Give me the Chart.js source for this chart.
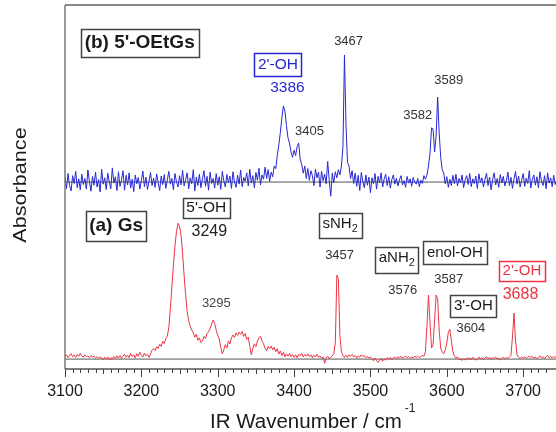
<!DOCTYPE html>
<html>
<head>
<meta charset="utf-8">
<script src="https://cdn.jsdelivr.net/npm/chart.js@4.4.1/dist/chart.umd.min.js"></script>
<style>
html,body{margin:0;padding:0;background:#fff;}
#wrap{position:relative;width:556px;height:432px;}
</style>
</head>
<body>
<div id="wrap"><canvas id="c"></canvas></div>
<script>
// IR wavenumber grid (cm^-1)
const wavenumbers = [
3100,3102,3104,3106,3108,3110,3112,3114,3116,3118,
3120,3122,3124,3126,3128,3130,3132,3134,3136,3138,
3140,3142,3144,3146,3148,3150,3152,3154,3156,3158,
3160,3162,3164,3166,3168,3170,3172,3174,3176,3178,
3180,3182,3184,3186,3188,3190,3192,3194,3196,3198,
3200,3202,3204,3206,3208,3210,3212,3214,3216,3218,
3220,3222,3224,3226,3228,3230,3232,3234,3236,3238,
3240,3242,3244,3246,3248,3250,3252,3254,3256,3258,
3260,3262,3264,3266,3268,3270,3272,3274,3276,3278,
3280,3282,3284,3286,3288,3290,3292,3294,3296,3298,
3300,3302,3304,3306,3308,3310,3312,3314,3316,3318,
3320,3322,3324,3326,3328,3330,3332,3334,3336,3338,
3340,3342,3344,3346,3348,3350,3352,3354,3356,3358,
3360,3362,3364,3366,3368,3370,3372,3374,3376,3378,
3380,3382,3384,3386,3388,3390,3392,3394,3396,3398,
3400,3402,3404,3406,3408,3410,3412,3414,3416,3418,
3420,3422,3424,3426,3428,3430,3432,3434,3436,3438,
3440,3442,3444,3446,3448,3450,3452,3454,3456,3458,
3460,3462,3464,3466,3468,3470,3472,3474,3476,3478,
3480,3482,3484,3486,3488,3490,3492,3494,3496,3498,
3500,3502,3504,3506,3508,3510,3512,3514,3516,3518,
3520,3522,3524,3526,3528,3530,3532,3534,3536,3538,
3540,3542,3544,3546,3548,3550,3552,3554,3556,3558,
3560,3562,3564,3566,3568,3570,3572,3574,3576,3578,
3580,3582,3584,3586,3588,3590,3592,3594,3596,3598,
3600,3602,3604,3606,3608,3610,3612,3614,3616,3618,
3620,3622,3624,3626,3628,3630,3632,3634,3636,3638,
3640,3642,3644,3646,3648,3650,3652,3654,3656,3658,
3660,3662,3664,3666,3668,3670,3672,3674,3676,3678,
3680,3682,3684,3686,3688,3690,3692,3694,3696,3698,
3700,3702,3704,3706,3708,3710,3712,3714,3716,3718,
3720,3722,3724,3726,3728,3730,3732,3734,3736,3738,
3740,3742,3744
];

// (b) 5'-OEtGs spectrum (offset trace, baseline at 50)
const absorbanceOEtGs = [
51.5,48.2,52.4,49.0,47.5,51.8,49.6,53.0,48.4,50.9,
47.8,52.2,49.3,51.0,48.0,53.4,50.2,47.4,51.6,49.1,
52.8,48.6,50.7,47.2,53.6,49.4,51.2,47.9,52.5,50.0,
48.1,54.0,49.7,51.5,47.6,52.9,48.8,50.6,53.2,47.7,
51.9,49.2,52.6,48.3,50.8,47.3,52.0,49.5,51.3,48.0,
50.5,53.1,48.7,51.4,47.9,50.2,52.7,49.0,51.1,48.5,
52.3,49.8,47.6,51.7,49.3,52.1,48.2,50.6,53.0,49.4,
51.0,47.8,52.4,50.1,48.6,51.8,49.2,53.3,48.9,50.7,
52.6,48.1,51.2,49.5,53.5,47.5,51.4,49.0,52.2,48.4,
50.9,53.2,48.8,51.6,47.7,52.8,49.6,51.0,48.3,52.4,
49.1,51.5,47.9,53.0,50.3,48.6,52.1,49.8,51.7,48.2,
52.9,50.0,48.5,51.9,49.4,53.4,48.7,51.3,50.2,52.6,
48.9,53.6,49.7,51.8,48.4,52.7,50.5,53.9,49.2,52.0,
50.8,54.2,51.0,53.5,50.2,52.8,51.5,54.5,53.8,57.5,
60.5,64.0,68.0,71.5,70.0,66.0,62.5,61.0,58.5,57.0,
59.0,57.5,60.0,61.0,56.5,55.0,52.5,54.5,51.0,53.8,
50.5,53.2,51.8,49.0,53.6,51.2,52.8,48.6,53.0,50.4,
52.2,49.5,55.8,50.6,46.0,52.5,49.8,52.9,51.2,53.5,
52.0,54.5,60.0,85.9,66.0,55.5,54.5,51.0,53.2,49.6,
52.5,48.8,51.9,47.6,52.7,50.2,48.4,52.0,49.1,51.4,
47.0,51.2,49.5,52.4,48.0,51.6,49.8,52.6,48.6,50.9,
52.2,49.0,51.5,48.3,50.7,52.0,49.4,51.1,48.9,50.6,
51.8,49.2,50.4,48.5,51.6,49.7,50.9,48.8,51.3,50.0,
49.4,51.0,48.7,50.5,49.6,51.8,50.8,52.0,54.5,58.0,
65.3,65.0,58.5,63.0,74.0,64.0,57.0,53.5,52.5,49.5,
51.5,48.5,50.8,49.0,51.9,49.5,52.2,48.9,51.0,49.8,
52.0,48.4,50.6,51.8,49.3,52.4,48.7,50.9,49.6,51.7,
48.2,52.3,49.9,51.2,48.6,50.8,52.5,49.0,51.4,47.8,
50.7,52.6,49.2,51.0,48.5,52.1,49.7,51.6,48.9,50.4,
52.8,49.0,51.3,48.2,50.9,53.0,49.4,51.7,48.6,50.5,
52.4,48.8,51.1,49.6,53.2,48.3,50.8,52.0,49.1,51.5,
48.4,52.9,50.2,49.0,51.8,48.1,52.6,49.7,51.2,48.7,
51.9,49.3,50.6
];

// (a) Gs spectrum (baseline at 0)
const absorbanceGs = [
0.6,1.2,0.4,1.0,1.5,0.7,1.1,0.5,1.3,0.8,
1.6,0.9,0.5,1.2,0.7,0.9,0.4,1.0,0.6,0.8,
0.3,0.7,0.2,0.6,0.4,-0.2,0.5,0.1,0.6,-0.3,
0.4,0.0,0.7,0.2,0.9,0.3,1.0,0.2,0.8,1.4,
0.5,1.1,0.4,1.6,0.7,1.2,0.3,1.5,0.8,1.9,
1.0,0.6,1.7,0.9,1.3,0.5,1.4,2.5,3.0,2.4,
3.5,3.0,4.2,3.6,5.0,4.4,5.8,6.5,9.0,14.2,
20.5,26.7,32.0,36.0,38.4,37.5,35.0,29.8,23.6,18.0,
13.4,10.8,9.2,8.2,7.4,6.2,7.0,5.3,6.0,4.7,
5.1,6.4,5.8,7.2,7.7,8.6,9.9,11.0,10.1,8.2,
6.7,5.7,3.3,1.5,2.7,4.1,3.1,5.1,4.3,6.0,
6.8,6.1,7.4,6.7,7.6,7.0,7.8,6.4,7.2,5.6,
6.2,3.6,1.2,3.1,4.3,3.5,5.1,6.0,6.4,5.1,
4.3,3.1,2.3,3.6,2.9,3.7,2.6,3.3,2.1,2.9,
1.4,2.3,1.0,1.9,0.6,1.5,0.8,1.6,0.7,1.3,
0.5,1.2,0.4,1.4,0.9,1.6,0.6,1.3,0.8,1.5,
0.7,1.2,0.4,1.1,0.6,1.3,0.5,0.9,0.2,0.6,
-1.2,0.3,0.8,0.1,0.6,0.9,1.5,4.6,23.7,22.6,
6.7,2.1,1.0,0.4,1.1,0.5,1.2,0.8,1.3,0.6,
1.0,0.3,0.9,0.5,1.2,0.7,1.0,0.4,0.8,0.2,
0.6,0.1,-0.5,0.3,-0.4,-0.9,-0.3,0.2,-0.6,0.1,
-0.3,0.4,0.0,0.5,-0.2,0.3,0.6,0.1,0.7,0.3,
0.8,0.2,0.5,0.9,0.4,0.7,0.2,0.6,0.3,0.8,
0.5,0.9,0.4,0.7,1.0,0.8,2.1,9.3,18.1,10.3,
3.1,4.1,10.8,18.1,17.0,8.2,3.1,1.9,1.5,2.6,
4.6,7.6,8.4,5.1,2.1,0.8,0.3,0.6,-0.2,0.2,
-0.4,0.1,-0.3,0.3,0.0,0.4,-0.2,0.5,0.1,-0.3,
0.2,0.6,0.0,0.4,-0.2,0.3,0.7,0.1,0.5,-0.1,
0.4,0.2,0.6,0.0,0.3,-0.3,0.2,0.5,0.1,0.4,
0.2,0.6,1.0,6.2,13.0,5.1,1.2,0.5,0.2,0.6,
0.3,0.7,0.2,0.5,0.9,0.4,0.8,0.3,0.6,0.1,
0.5,0.9,0.3,0.7,0.2,0.6,1.0,0.4,0.8,0.3,
0.7,0.5,0.9
];

// zero-absorbance reference lines of the two stacked traces
const baselineLevels = [50, 0];
const axisRange = [3100, 3743];
const tickLabelValues = [3100, 3200, 3300, 3400, 3500, 3600, 3700];

const BLUE = '#2727d2';
const RED = '#ec3442';
const FONT = '"Liberation Sans", Arial, Helvetica, sans-serif';

const toPoints = (xs, ys) => xs.map((x, i) => ({x: x, y: ys[i]}));

const datasets = [
  {data: toPoints(wavenumbers, absorbanceOEtGs), borderColor: BLUE, borderWidth: 1, order: 1},
  {data: toPoints(wavenumbers, absorbanceGs), borderColor: RED, borderWidth: 1, order: 1}
];
baselineLevels.forEach(v => datasets.push({
  data: [{x: axisRange[0], y: v}, {x: axisRange[1], y: v}],
  borderColor: '#555', borderWidth: 1, order: 2
}));

const labels = [
  {seg:[{t:"(b) 5'-OEtGs"}], x:3197.8, y:89.3, size:19, bold:true, color:'#1a1a1a', box:{w:118,h:28,c:'#444'}},
  {seg:[{t:"(a) Gs"}], x:3166.9, y:37.6, size:19, bold:true, color:'#1a1a1a', box:{w:60,h:30,c:'#444'}},
  {seg:[{t:"2'-OH"}], x:3378.9, y:83.2, size:15.5, color:BLUE, box:{w:47,h:23,c:BLUE}},
  {seg:[{t:"3386"}], x:3391.3, y:76.6, size:15.5, color:BLUE},
  {seg:[{t:"3405"}], x:3420.2, y:64.4, size:13, color:'#333'},
  {seg:[{t:"3467"}], x:3471.4, y:89.6, size:13, color:'#333'},
  {seg:[{t:"3582"}], x:3562.0, y:68.7, size:13, color:'#333'},
  {seg:[{t:"3589"}], x:3602.6, y:78.6, size:13, color:'#333'},
  {seg:[{t:"5'-OH"}], x:3285.0, y:42.8, size:15.5, color:'#1a1a1a', box:{w:47,h:20,c:'#444'}},
  {seg:[{t:"3249"}], x:3289.0, y:35.9, size:16, color:'#222'},
  {seg:[{t:"3295"}], x:3298.2, y:15.8, size:13, color:'#444'},
  {seg:[{t:"sNH"},{t:"2",sub:true}], x:3460.2, y:37.7, size:15, color:'#1a1a1a', box:{w:43,h:25,c:'#444'}},
  {seg:[{t:"3457"}], x:3459.6, y:29.4, size:13, color:'#333'},
  {seg:[{t:"aNH"},{t:"2",sub:true}], x:3534.4, y:28.0, size:15, color:'#1a1a1a', box:{w:43,h:26,c:'#444'}},
  {seg:[{t:"enol-OH"}], x:3610.5, y:30.1, size:15, color:'#1a1a1a', box:{w:64,h:23,c:'#444'}},
  {seg:[{t:"3576"}], x:3542.3, y:19.5, size:13, color:'#333'},
  {seg:[{t:"3587"}], x:3602.6, y:22.6, size:13, color:'#333'},
  {seg:[{t:"3'-OH"}], x:3634.8, y:15.0, size:15, color:'#1a1a1a', box:{w:46,h:22,c:'#444'}},
  {seg:[{t:"3604"}], x:3631.5, y:8.8, size:13, color:'#333'},
  {seg:[{t:"2'-OH"}], x:3698.4, y:24.9, size:15, color:RED, box:{w:46,h:20,c:RED}},
  {seg:[{t:"3688"}], x:3696.5, y:18.3, size:16, color:RED}
];

const decorPlugin = {
  id: 'decor',
  afterDatasetsDraw(chart) {
    const ctx = chart.ctx, a = chart.chartArea;
    const xs = chart.scales.x, ys = chart.scales.y;
    ctx.save();
    // frame
    ctx.strokeStyle = '#888'; ctx.lineWidth = 2;
    ctx.beginPath(); ctx.moveTo(a.left, a.top); ctx.lineTo(a.right, a.top); ctx.stroke();
    ctx.strokeStyle = '#777'; ctx.lineWidth = 1.5;
    ctx.beginPath(); ctx.moveTo(a.left, a.top); ctx.lineTo(a.left, a.bottom); ctx.stroke();
    ctx.strokeStyle = '#555'; ctx.lineWidth = 1.5;
    ctx.beginPath(); ctx.moveTo(a.left, a.bottom); ctx.lineTo(a.right, a.bottom); ctx.stroke();
    // tick marks (minor every 10, major every 100)
    ctx.lineWidth = 1; ctx.strokeStyle = '#444';
    xs.ticks.forEach(t => {
      const v = t.value;
      if (v % 10 !== 0) return;
      const px = Math.round(xs.getPixelForValue(v)) + 0.5;
      const len = (v % 100 === 0) ? 8 : (v % 50 === 0 ? 5 : 4);
      ctx.beginPath(); ctx.moveTo(px, a.bottom); ctx.lineTo(px, a.bottom + len); ctx.stroke();
    });
    // tick labels
    ctx.fillStyle = '#1a1a1a';
    ctx.font = '16px ' + FONT;
    ctx.textAlign = 'center'; ctx.textBaseline = 'middle';
    tickLabelValues.forEach(v => ctx.fillText(String(v), xs.getPixelForValue(v), a.bottom + 23));
    // labels
    labels.forEach(l => {
      const cx = xs.getPixelForValue(l.x), cy = ys.getPixelForValue(l.y);
      const w0 = l.bold ? 'bold ' : '';
      let total = 0;
      l.seg.forEach(s => {
        const sz = s.sub ? l.size * 0.72 : l.size;
        ctx.font = w0 + sz + 'px ' + FONT;
        s.w = ctx.measureText(s.t).width; total += s.w;
      });
      if (l.box) {
        ctx.strokeStyle = l.box.c; ctx.lineWidth = 1.5;
        ctx.strokeRect(Math.round(cx - l.box.w / 2) + 0.5, Math.round(cy - l.box.h / 2) + 0.5, l.box.w, l.box.h);
      }
      let x = cx - total / 2;
      ctx.fillStyle = l.color; ctx.textBaseline = 'middle'; ctx.textAlign = 'left';
      const yoff = l.seg.some(s => s.sub) ? -2 : 0;
      l.seg.forEach(s => {
        const sz = s.sub ? l.size * 0.72 : l.size;
        ctx.font = w0 + sz + 'px ' + FONT;
        ctx.fillText(s.t, x, cy + yoff + (s.sub ? l.size * 0.35 : 0));
        x += s.w;
      });
    });
    // axis titles
    ctx.fillStyle = '#1a1a1a';
    ctx.font = '20.5px ' + FONT;
    ctx.textBaseline = 'middle'; ctx.textAlign = 'left';
    const main = 'IR Wavenumber / cm';
    const mw = ctx.measureText(main).width;
    const tx = 210;
    ctx.fillText(main, tx, 422);
    ctx.font = '12px ' + FONT;
    ctx.fillText('-1', tx + mw + 3, 409);
    ctx.font = '18px ' + FONT;
    ctx.translate(21, 185); ctx.rotate(-Math.PI / 2); ctx.scale(1.2, 1);
    ctx.textAlign = 'center';
    ctx.fillText('Absorbance', 0, 0);
    ctx.restore();
  }
};

new Chart(document.getElementById('c'), {
  type: 'line',
  data: {datasets: datasets},
  options: {
    responsive: true,
    maintainAspectRatio: false,
    animation: false,
    devicePixelRatio: 1,
    layout: {padding: {left: 65, top: 5, right: 0, bottom: 0}},
    elements: {point: {radius: 0}, line: {tension: 0}},
    plugins: {legend: {display: false}, tooltip: {enabled: false}},
    scales: {
      x: {
        type: 'linear', min: axisRange[0], max: axisRange[1],
        grid: {display: false, drawTicks: false},
        border: {display: false},
        afterFit(s) { s.height = 63; },
        ticks: {display: false, stepSize: 10, autoSkip: false}
      },
      y: {display: false, min: -2.8, max: 100}
    }
  },
  plugins: [decorPlugin]
});
</script>
</body>
</html>
